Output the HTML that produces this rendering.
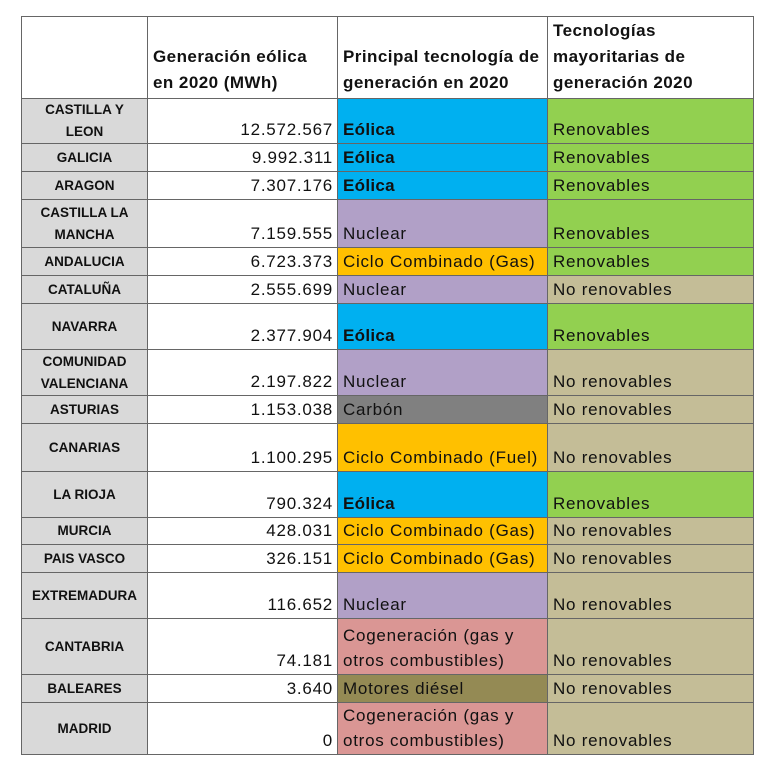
<!DOCTYPE html>
<html><head><meta charset="utf-8"><style>
body{margin:0;background:#fff;width:768px;height:762px;position:relative;font-family:"Liberation Sans",sans-serif;}
table{position:absolute;left:21px;top:16px;border-collapse:collapse;table-layout:fixed;}
td{border:1px solid #666;padding:0 3px 1px 5px;vertical-align:bottom;font-size:17px;letter-spacing:0.75px;line-height:25px;color:#111;white-space:nowrap;overflow:hidden;}
td.h{font-weight:bold;font-size:17px;letter-spacing:0.45px;line-height:26px;padding-bottom:2px;}
td.r{background:#d9d9d9;font-weight:bold;font-size:13.5px;letter-spacing:0;text-align:center;vertical-align:middle;line-height:22px;padding:0 2px;}
td.n{text-align:right;padding-right:4px;}
.b{font-weight:bold;letter-spacing:0.3px}
.bl{background:#00b0f0}.pu{background:#b1a0c7}.or{background:#ffc000}.gr{background:#808080}.pk{background:#da9694}.ol{background:#948a54}
.g{background:#92d050}.t{background:#c4bd97}
</style></head><body>
<table>
<colgroup><col style="width:126px"><col style="width:190px"><col style="width:210px"><col style="width:206px"></colgroup>
<tr style="height:82px"><td class="h"></td><td class="h">Generación eólica<br>en 2020 (MWh)</td><td class="h">Principal tecnología de<br>generación en 2020</td><td class="h">Tecnologías<br>mayoritarias de<br>generación 2020</td></tr>
<tr style="height:44px"><td class="r">CASTILLA Y<br>LEON</td><td class="n">12.572.567</td><td class="bl b">Eólica</td><td class="g">Renovables</td></tr>
<tr style="height:28px"><td class="r">GALICIA</td><td class="n">9.992.311</td><td class="bl b">Eólica</td><td class="g">Renovables</td></tr>
<tr style="height:28px"><td class="r">ARAGON</td><td class="n">7.307.176</td><td class="bl b">Eólica</td><td class="g">Renovables</td></tr>
<tr style="height:48px"><td class="r">CASTILLA LA<br>MANCHA</td><td class="n">7.159.555</td><td class="pu">Nuclear</td><td class="g">Renovables</td></tr>
<tr style="height:28px"><td class="r">ANDALUCIA</td><td class="n">6.723.373</td><td class="or">Ciclo Combinado (Gas)</td><td class="g">Renovables</td></tr>
<tr style="height:28px"><td class="r">CATALUÑA</td><td class="n">2.555.699</td><td class="pu">Nuclear</td><td class="t">No renovables</td></tr>
<tr style="height:46px"><td class="r">NAVARRA</td><td class="n">2.377.904</td><td class="bl b">Eólica</td><td class="g">Renovables</td></tr>
<tr style="height:46px"><td class="r">COMUNIDAD<br>VALENCIANA</td><td class="n">2.197.822</td><td class="pu">Nuclear</td><td class="t">No renovables</td></tr>
<tr style="height:28px"><td class="r">ASTURIAS</td><td class="n">1.153.038</td><td class="gr">Carbón</td><td class="t">No renovables</td></tr>
<tr style="height:48px"><td class="r">CANARIAS</td><td class="n">1.100.295</td><td class="or">Ciclo Combinado (Fuel)</td><td class="t">No renovables</td></tr>
<tr style="height:46px"><td class="r">LA RIOJA</td><td class="n">790.324</td><td class="bl b">Eólica</td><td class="g">Renovables</td></tr>
<tr style="height:26px"><td class="r">MURCIA</td><td class="n">428.031</td><td class="or">Ciclo Combinado (Gas)</td><td class="t">No renovables</td></tr>
<tr style="height:28px"><td class="r">PAIS VASCO</td><td class="n">326.151</td><td class="or">Ciclo Combinado (Gas)</td><td class="t">No renovables</td></tr>
<tr style="height:46px"><td class="r">EXTREMADURA</td><td class="n">116.652</td><td class="pu">Nuclear</td><td class="t">No renovables</td></tr>
<tr style="height:56px"><td class="r">CANTABRIA</td><td class="n">74.181</td><td class="pk">Cogeneración (gas y<br>otros combustibles)</td><td class="t">No renovables</td></tr>
<tr style="height:28px"><td class="r">BALEARES</td><td class="n">3.640</td><td class="ol">Motores diésel</td><td class="t">No renovables</td></tr>
<tr style="height:52px"><td class="r">MADRID</td><td class="n">0</td><td class="pk">Cogeneración (gas y<br>otros combustibles)</td><td class="t">No renovables</td></tr>
</table>
</body></html>
